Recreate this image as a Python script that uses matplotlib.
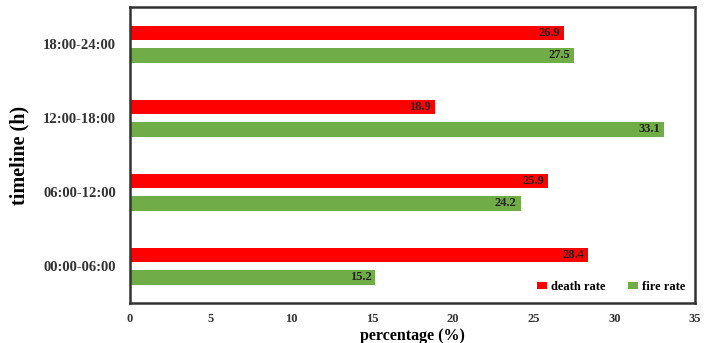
import matplotlib.pyplot as plt
import numpy as np

periods = ["00:00-06:00", "06:00-12:00", "12:00-18:00", "18:00-24:00"]
death_rate = [28.4, 25.9, 18.9, 26.9]
fire_rate = [15.2, 24.2, 33.1, 27.5]

plt.rcParams["font.family"] = ["Liberation Serif", "DejaVu Serif"]
plt.rcParams["font.weight"] = "bold"

fig = plt.figure(figsize=(7.08, 3.43), dpi=100)
ax = fig.add_axes([130 / 708, 40 / 343, 565 / 708, 296 / 343])

y = np.arange(len(periods))
ax.barh(y + 0.15, death_rate, height=0.2, color="#FF0000", label="death rate")
ax.barh(y - 0.15, fire_rate, height=0.2, color="#70AD47", label="fire rate")

# value labels sit just inside the end of each bar
for offset, values in ((0.15, death_rate), (-0.15, fire_rate)):
    for yi, v in zip(y, values):
        ax.text(v - 0.25, yi + offset, f"{v:.1f}", ha="right", va="center",
                fontsize=9, fontweight="bold", color="#222222")

ax.set_xlim(0, 35)
ax.set_ylim(-0.5, 3.5)
ax.set_xticks(range(0, 36, 5))
ax.set_yticks(y, labels=periods)
ax.tick_params(length=0, colors="#333333")
ax.tick_params(axis="y", labelsize=10.5, pad=10)
ax.tick_params(axis="x", labelsize=9, pad=7)

for spine in ax.spines.values():
    spine.set_linewidth(1.8)
    spine.set_color("#333333")

ax.set_xlabel("percentage (%)", fontsize=11.5, fontweight="bold")
ax.xaxis.set_label_coords(0.5, -0.083)
ax.set_ylabel("timeline (h)", fontsize=14.5, fontweight="bold")
ax.yaxis.set_label_coords(-0.178, 0.5)

ax.legend(loc="lower right", frameon=False, fontsize=9, ncol=2,
          handlelength=0.8, handleheight=0.5, handletextpad=0.3,
          columnspacing=1.8, borderaxespad=0.4)

fig.savefig("out.png", dpi=100)
